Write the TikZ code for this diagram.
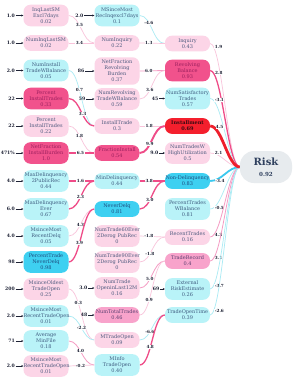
\documentclass[tikz,border=0pt]{standalone}
\usepackage{fontspec}
\setmainfont{DejaVu Serif}
\usetikzlibrary{backgrounds,arrows.meta}
\definecolor{lpF}{HTML}{FCD5E7}\definecolor{lpT}{HTML}{4D5A7E}
\definecolor{mpF}{HTML}{F8A3CB}\definecolor{mpT}{HTML}{5A3F70}
\definecolor{dpF}{HTML}{F1528C}\definecolor{dpT}{HTML}{9B1F5E}
\definecolor{rdF}{HTML}{F41F2D}\definecolor{rdT}{HTML}{3B0A12}
\definecolor{lcF}{HTML}{B9F3F8}\definecolor{lcT}{HTML}{3F5C80}
\definecolor{dcF}{HTML}{3ED0F1}\definecolor{dcT}{HTML}{1D4B7E}
\definecolor{rkF}{HTML}{E7EBEE}\definecolor{rkT}{HTML}{2F405E}
\definecolor{eLP}{HTML}{F9C4DB}\definecolor{eMP}{HTML}{F59CC4}
\definecolor{eDP}{HTML}{EF4C88}\definecolor{eRD}{HTML}{EE1F2C}
\definecolor{eLC}{HTML}{A9EBF4}\definecolor{eDC}{HTML}{3BC9EF}
\definecolor{labT}{HTML}{1E2235}
\begin{document}
\begin{tikzpicture}[x=1pt,y=-1pt,
  nd/.style={rounded corners=7pt, text width=45pt, align=center, inner xsep=0pt,
    inner ysep=3pt, font=\fontsize{5}{5.9}\selectfont},
  lpk/.style={nd, fill=lpF, text=lpT},
  mpk/.style={nd, fill=mpF, text=mpT},
  dpk/.style={nd, fill=dpF, text=dpT},
  rdk/.style={nd, fill=rdF, text=rdT, font=\fontsize{5}{5.9}\selectfont\bfseries},
  lcy/.style={nd, fill=lcF, text=lcT},
  dcy/.style={nd, fill=dcF, text=dcT},
  elp/.style={draw=eLP, line width=0.7pt},
  emp/.style={draw=eMP, line width=0.8pt},
  edp/.style={draw=eDP, line width=1.3pt},
  edpt/.style={draw=eDP, line width=1.9pt},
  erd/.style={draw=eRD, line width=2.8pt},
  elc/.style={draw=eLC, line width=0.7pt},
  edc/.style={draw=eDC, line width=1.8pt},
  wl/.style={font=\fontsize{4.2}{4.2}\selectfont\bfseries, text=labT, fill=white, inner sep=0.4pt},
  rl/.style={wl, pos=.1, anchor=west, xshift=0.5pt},
  inl/.style={font=\fontsize{4.6}{4.6}\selectfont\bfseries, text=labT, inner sep=0.5pt, anchor=east},
  ina/.style={-{Stealth[length=2pt,width=2pt]}, line width=0.4pt, draw=labT},
]
\useasboundingbox (0,0) rectangle (296,381);
% column 1
\node[lpk] (c1a) at (46,15.5) {InqLastSM\\Excl7days\\0.02};
\node[lpk] (c1b) at (46,43) {NumInqLastSM\\0.02};
\node[lcy] (c1c) at (46,70.5) {NumInstall\\TradeWBalance\\0.05};
\node[dpk] (c1d) at (46,98.5) {Percent\\InstallTrades\\0.33};
\node[lpk] (c1e) at (46,126) {Percent\\InstallTrades\\0.22};
\node[dpk] (c1f) at (46,153) {NetFraction\\InstallBurden\\1.0};
\node[lcy] (c1g) at (46,181) {MaxDelinquency\\2PublicRec\\0.44};
\node[lcy] (c1h) at (46,209) {MaxDelinquency\\Ever\\0.67};
\node[lcy] (c1i) at (46,236) {MsinceMost\\RecentDelq\\0.05};
\node[dcy] (c1j) at (46,262) {PercentTrade\\NeverDelq\\0.98};
\node[lpk] (c1k) at (46,289) {MsinceOldest\\TradeOpen\\0.25};
\node[lcy] (c1l) at (46,316) {MsinceMost\\RecentTradeOpen\\0.01};
\node[lcy] (c1m) at (46,341) {Average\\MinFile\\0.18};
\node[lpk] (c1n) at (46,366) {MsinceMost\\RecentTradeOpen\\0.01};
% column 2
\node[lcy] (c2a) at (117,15.5) {MSinceMost\\RecInqexcl7days\\0.1};
\node[lpk] (c2b) at (117,43) {NumInquiry\\0.22};
\node[lpk] (c2c) at (117,71) {NetFraction\\Revolving\\Burden\\0.37};
\node[lpk] (c2d) at (117,99) {NumRevolving\\TradeWBalance\\0.59};
\node[lpk] (c2e) at (117,126) {InstallTrade\\0.3};
\node[dpk] (c2f) at (117,153) {FractionInstall\\0.54};
\node[lcy] (c2g) at (117,181) {MinDelinquency\\0.44};
\node[dcy] (c2h) at (117,209) {NeverDelq\\0.81};
\node[lpk] (c2i) at (117,236) {NumTrade60Ever\\2Derog PubRec\\0};
\node[lpk] (c2j) at (117,262) {NumTrade90Ever\\2Derog PubRec\\0};
\node[lpk] (c2k) at (117,288) {NumTrade\\OpeninLast12M\\0.16};
\node[mpk] (c2l) at (117,315) {NumTotalTrades\\0.46};
\node[lpk] (c2m) at (117,340) {MTradeOpen\\0.09};
\node[lcy] (c2n) at (117,365) {MInfo\\TradeOpen\\0.40};
% column 3
\node[lpk] (c3a) at (187.5,43.5) {Inquiry\\0.43};
\node[dpk] (c3b) at (187.5,70.5) {Revolving\\Balance\\0.93};
\node[lcy] (c3c) at (187.5,98.5) {NumSatisfactory\\Trades\\0.57};
\node[rdk] (c3d) at (187.5,126) {Installment\\0.69};
\node[lpk] (c3e) at (187.5,153) {NumTradesW\\HighUtilization\\0.5};
\node[dcy] (c3f) at (187.5,181) {Non-Delinquency\\0.83};
\node[lcy] (c3g) at (187.5,209) {PercentTrades\\WBalance\\0.81};
\node[lpk] (c3h) at (187.5,237) {RecentTrades\\0.16};
\node[mpk] (c3i) at (187.5,261) {TradeRecord\\0.4};
\node[lcy] (c3j) at (187.5,289) {External\\RiskEstimate\\0.26};
\node[lcy] (c3k) at (187.5,315) {TradeOpenTime\\0.39};
% output
\node[rounded corners=14pt, fill=rkF, text=rkT, minimum width=52pt, minimum height=32pt,
  align=center, inner sep=1pt] (risk) at (266,167)
  {{\fontsize{10}{11}\selectfont\bfseries Risk}\\[-1pt]{\fontsize{5.6}{6}\selectfont\bfseries 0.92}};
% input values
\node[inl] (i1a) at (15.5,15.5) {1.0}; \draw[ina] (i1a.east) -- (c1a.west);
\node[inl] (i1b) at (15.5,43) {1.0}; \draw[ina] (i1b.east) -- (c1b.west);
\node[inl] (i1c) at (15.5,70.5) {2.0}; \draw[ina] (i1c.east) -- (c1c.west);
\node[inl] (i1d) at (15.5,98.5) {22}; \draw[ina] (i1d.east) -- (c1d.west);
\node[inl] (i1e) at (15.5,126) {22}; \draw[ina] (i1e.east) -- (c1e.west);
\node[inl] (i1f) at (15.5,153) {471\%}; \draw[ina] (i1f.east) -- (c1f.west);
\node[inl] (i1g) at (15.5,181) {4.0}; \draw[ina] (i1g.east) -- (c1g.west);
\node[inl] (i1h) at (15.5,209) {6.0}; \draw[ina] (i1h.east) -- (c1h.west);
\node[inl] (i1i) at (15.5,236) {4.0}; \draw[ina] (i1i.east) -- (c1i.west);
\node[inl] (i1j) at (15.5,262) {98}; \draw[ina] (i1j.east) -- (c1j.west);
\node[inl] (i1k) at (15.5,289) {200}; \draw[ina] (i1k.east) -- (c1k.west);
\node[inl] (i1l) at (15.5,316) {2.0}; \draw[ina] (i1l.east) -- (c1l.west);
\node[inl] (i1m) at (15.5,341) {71}; \draw[ina] (i1m.east) -- (c1m.west);
\node[inl] (i1n) at (15.5,366) {2.0}; \draw[ina] (i1n.east) -- (c1n.west);
\node[inl] (i2a) at (84,15.5) {2.0}; \draw[ina] (i2a.east) -- (c2a.west);
\node[inl] (i2c) at (85,71) {86}; \draw[ina] (i2c.east) -- (c2c.west);
\node[inl] (i2d) at (86,99) {59}; \draw[ina] (i2d.east) -- (c2d.west);
\node[inl] (i2k) at (88,288) {3.0}; \draw[ina] (i2k.east) -- (c2k.west);
\node[inl] (i2l) at (88,315) {48}; \draw[ina] (i2l.east) -- (c2l.west);
\node[inl] (i3c) at (159,98.5) {45}; \draw[ina] (i3c.east) -- (c3c.west);
\node[inl] (i3e) at (159,153) {9.0}; \draw[ina] (i3e.east) -- (c3e.west);
\node[inl] (i3j) at (160,289) {69}; \draw[ina] (i3j.east) -- (c3j.west);
% connectors
\begin{scope}[on background layer]
\fill[white] (0,0) rectangle (296,381);
% column 1 -> column 2
\draw[elp] (c1a.east) .. controls +(12,0) and +(-12,0) .. (c2b.west) node[wl,pos=.4]{3.5};
\draw[elp] (c1b.east) .. controls +(12,0) and +(-12,0) .. (c2b.west) node[wl,pos=.4]{3.4};
\draw[elc] (c1c.east) .. controls +(12,0) and +(-12,0) .. (c2e.west) node[wl,pos=.4]{0.7};
\draw[edp] (c1d.east) .. controls +(12,0) and +(-12,0) .. (c2e.west) node[wl,pos=.55]{3.3};
\draw[elp] (c1e.east) .. controls +(12,0) and +(-12,0) .. (c2f.west) node[wl,pos=.4]{1.8};
\draw[edpt] (c1f.east) .. controls +(12,0) and +(-12,0) .. (c2f.west) node[wl,pos=.45]{6.5};
\draw[edp] (c1g.east) .. controls +(12,0) and +(-12,0) .. (c2g.west) node[wl,pos=.45]{1.6};
\draw[edp] (c1h.east) .. controls +(12,0) and +(-12,0) .. (c2g.west) node[wl,pos=.45]{2.3};
\draw[elp] (c1i.east) .. controls +(12,0) and +(-12,0) .. (c2h.west) node[wl,pos=.45]{4.3};
\draw[edp] (c1j.east) .. controls +(12,0) and +(-12,0) .. (c2h.west) node[wl,pos=.4]{3.9};
\draw[elp] (c1k.east) .. controls +(12,0) and +(-12,0) .. (c2m.west) node[wl,pos=.35]{0.3};
\draw[elc] (c1l.east) .. controls +(12,0) and +(-12,0) .. (c2m.west) node[wl,pos=.5]{-2.2};
\draw[emp] (c1m.east) .. controls +(12,0) and +(-12,0) .. (c2n.west) node[wl,pos=.45]{4.0};
\draw[elp] (c1n.east) .. controls +(12,0) and +(-12,0) .. (c2n.west) node[wl,pos=.45]{-0.2};
% column 2 -> column 3
\draw[elc] (c2a.east) .. controls +(12,0) and +(-12,0) .. (c3a.west) node[wl,pos=.33]{-4.6};
\draw[elp] (c2b.east) .. controls +(12,0) and +(-12,0) .. (c3a.west) node[wl,pos=.33]{1.3};
\draw[emp] (c2c.east) .. controls +(12,0) and +(-12,0) .. (c3b.west) node[wl,pos=.33]{6.0};
\draw[elp] (c2d.east) .. controls +(12,0) and +(-12,0) .. (c3b.west) node[wl,pos=.38]{3.6};
\draw[elp] (c2e.east) .. controls +(12,0) and +(-12,0) .. (c3d.west) node[wl,pos=.35]{1.8};
\draw[edpt] (c2f.east) .. controls +(12,0) and +(-12,0) .. (c3d.west) node[wl,pos=.38]{9.9};
\draw[edp] (c2g.east) .. controls +(12,0) and +(-12,0) .. (c3f.west) node[wl,pos=.35]{3.8};
\draw[edp] (c2h.east) .. controls +(12,0) and +(-12,0) .. (c3f.west) node[wl,pos=.38]{3.0};
\draw[elp] (c2i.east) .. controls +(12,0) and +(-12,0) .. (c3h.west) node[wl,pos=.33]{-1.8};
\draw[elp] (c2j.east) .. controls +(12,0) and +(-12,0) .. (c3h.west) node[wl,pos=.38]{-1.8};
\draw[emp] (c2k.east) .. controls +(12,0) and +(-12,0) .. (c3i.west) node[wl,pos=.38]{5.0};
\draw[elp] (c2l.east) .. controls +(12,0) and +(-12,0) .. (c3i.west) node[wl,pos=.35]{0.9};
\draw[elc] (c2m.east) .. controls +(12,0) and +(-12,0) .. (c3k.west) node[wl,pos=.38]{-6.6};
\draw[edp] (c2n.east) .. controls +(12,0) and +(-12,0) .. (c3k.west) node[wl,pos=.4]{4.8};
% column 3 -> output
\draw[elp] (c3a.east) .. controls +(12,0) and +(-12,0) .. (risk.west) node[rl]{1.9};
\draw[edp] (c3b.east) .. controls +(12,0) and +(-12,0) .. (risk.west) node[rl]{2.8};
\draw[elc] (c3c.east) .. controls +(12,0) and +(-12,0) .. (risk.west) node[rl]{-3.1};
\draw[elp] (c3e.east) .. controls +(12,0) and +(-12,0) .. (risk.west) node[rl]{2.1};
\draw[elc] (c3g.east) .. controls +(12,0) and +(-12,0) .. (risk.west) node[rl]{-0.5};
\draw[emp] (c3h.east) .. controls +(12,0) and +(-12,0) .. (risk.west) node[rl]{4.3};
\draw[emp] (c3i.east) .. controls +(12,0) and +(-12,0) .. (risk.west) node[rl]{3.1};
\draw[elc] (c3j.east) .. controls +(12,0) and +(-12,0) .. (risk.west) node[rl]{-3.7};
\draw[elc] (c3k.east) .. controls +(12,0) and +(-12,0) .. (risk.west) node[rl]{-2.6};
\draw[edc] (c3f.east) .. controls +(12,0) and +(-12,0) .. (risk.west) node[rl]{-3.4};
\draw[erd] (c3d.east) .. controls +(12,0) and +(-12,0) .. (risk.west) node[rl]{4.5};
\end{scope}
\end{tikzpicture}
\end{document}
